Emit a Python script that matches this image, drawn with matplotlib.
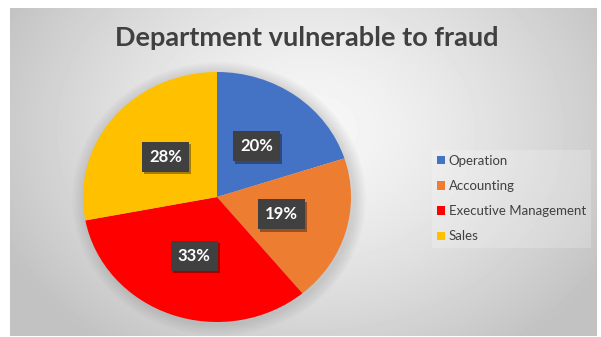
import numpy as np
import matplotlib
matplotlib.use("Agg")
import matplotlib.pyplot as plt
import matplotlib.patheffects as pe
from matplotlib.patches import Patch, Ellipse

# Share of fraud cases by department
departments = ["Operation", "Accounting", "Executive Management", "Sales"]
shares = [20, 19, 33, 28]
slice_colors = ["#4472C4", "#ED7D31", "#FF0000", "#FFC000"]

W, H = 601, 337
fig = plt.figure(figsize=(W / 100, H / 100), dpi=100)
fig.patch.set_facecolor("white")

# Grey panel with a soft radial highlight
bg = fig.add_axes([0, 0, 1, 1])
bg.set_xlim(0, W)
bg.set_ylim(H, 0)
bg.axis("off")
xx, yy = np.meshgrid(np.arange(10, 597), np.arange(8, 336))
d = np.sqrt(((xx - 310) / 330.0) ** 2 + ((yy - 130) / 260.0) ** 2)
shade = np.clip(0.97 - 0.2 * d ** 1.4, 0.76, 0.97)
bg.imshow(shade, cmap="gray", vmin=0, vmax=1, extent=(10, 597, 336, 8),
          interpolation="bilinear", aspect="auto")

# Faint shadow under the pie
for k in range(8):
    s = 1.0 + 0.012 * (k + 1)
    bg.add_patch(Ellipse((219, 199), 268 * s, 250 * s,
                         color="#808080", alpha=0.035, lw=0))

fig.text(307 / W, 1 - 38 / H, "Department vulnerable to fraud",
         ha="center", va="center", fontsize=19.5, fontweight="bold",
         family="Lato", color="#404040")

# Pie, slightly wider than tall
rx, ry, cx, cy = 134, 125, 217, 197
ax = fig.add_axes([(cx - rx) / W, (H - cy - ry) / H, 2 * rx / W, 2 * ry / H])
wedges, texts, autotexts = ax.pie(
    shares, colors=slice_colors, startangle=90, counterclock=False,
    autopct="%d%%", pctdistance=0.5, radius=1,
    wedgeprops=dict(linewidth=0),
    textprops=dict(color="white", fontsize=12, fontweight="bold", family="Lato"))
ax.set_aspect("auto")
ax.set_xlim(-1, 1)
ax.set_ylim(-1, 1)
ax.axis("off")

for t in autotexts:
    t.set_bbox(dict(boxstyle="square,pad=0.42", facecolor="#404040", edgecolor="none"))
    t.get_bbox_patch().set_path_effects(
        [pe.SimplePatchShadow(offset=(1.5, -1.5), shadow_rgbFace="#000000", alpha=0.35),
         pe.Normal()])

handles = [Patch(facecolor=c, edgecolor="none") for c in slice_colors]
leg = fig.legend(handles, departments, loc="upper left",
                 bbox_to_anchor=(425 / W, 1 - 143 / H),
                 frameon=True, fancybox=False,
                 prop=dict(family="Lato", size=9.5),
                 handlelength=0.6, handleheight=0.6, handletextpad=0.3,
                 labelspacing=1.0, borderpad=0.4)
leg.get_frame().set_facecolor("white")
leg.get_frame().set_alpha(0.2)
leg.get_frame().set_edgecolor("none")
for txt in leg.get_texts():
    txt.set_color("#404040")

fig.savefig("out.png", dpi=100)
